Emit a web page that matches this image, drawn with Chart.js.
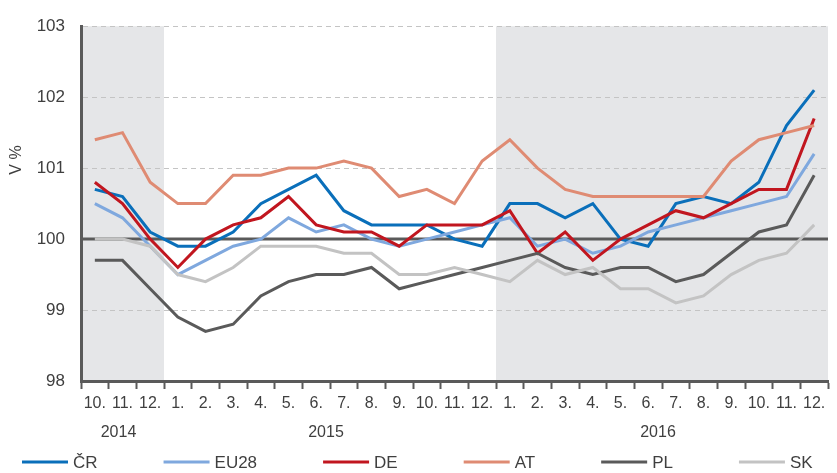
<!DOCTYPE html>
<html>
<head>
<meta charset="utf-8">
<script src="https://cdn.jsdelivr.net/npm/chart.js@4.4.1/dist/chart.umd.min.js"></script>
<style>
html,body{margin:0;padding:0;background:#fff;}
#wrap{width:837px;height:473px;position:relative;}
</style>
</head>
<body>
<div id="wrap"><canvas id="c" width="837" height="473"></canvas></div>
<script>
// ---- data ----
const monthLabels = ['10.','11.','12.','1.','2.','3.','4.','5.','6.','7.','8.','9.','10.','11.','12.','1.','2.','3.','4.','5.','6.','7.','8.','9.','10.','11.','12.'];
const yearLabels = ['2014','2015','2016'];
const yearFirstIndex = [0, 3, 15];
const yearLastIndex = [2, 14, 26];
const shadedYears = [0, 2];
const seriesNames = ['ČR','EU28','DE','AT','PL','SK'];
const yTicks = [98, 99, 100, 101, 102, 103];
const referenceLevel = 100;
const yTitle = 'V %';

const cr   = [100.7,100.6,100.1, 99.9,99.9,100.1,100.5,100.7,100.9,100.4,100.2,100.2,100.2,100.0,99.9, 100.5,100.5,100.3,100.5,100.0,99.9,100.5,100.6,100.5,100.8,101.6,102.1];
const eu28 = [100.5,100.3,99.9, 99.5,99.7,99.9,100.0,100.3,100.1,100.2,100.0,99.9,100.0,100.1,100.2, 100.3,99.9,100.0,99.8,99.9,100.1,100.2,100.3,100.4,100.5,100.6,101.2];
const de   = [100.8,100.5,100.0, 99.6,100.0,100.2,100.3,100.6,100.2,100.1,100.1,99.9,100.2,100.2,100.2, 100.4,99.8,100.1,99.7,100.0,100.2,100.4,100.3,100.5,100.7,100.7,101.7];
const at   = [101.4,101.5,100.8, 100.5,100.5,100.9,100.9,101.0,101.0,101.1,101.0,100.6,100.7,100.5,101.1, 101.4,101.0,100.7,100.6,100.6,100.6,100.6,100.6,101.1,101.4,101.5,101.6];
const pl   = [99.7,99.7,99.3, 98.9,98.7,98.8,99.2,99.4,99.5,99.5,99.6,99.3,99.4,99.5,99.6, 99.7,99.8,99.6,99.5,99.6,99.6,99.4,99.5,99.8,100.1,100.2,100.9];
const sk   = [100.0,100.0,99.9, 99.5,99.4,99.6,99.9,99.9,99.9,99.8,99.8,99.5,99.5,99.6,99.5, 99.4,99.7,99.5,99.6,99.3,99.3,99.1,99.2,99.5,99.7,99.8,100.2];

// ---- styles ----
const seriesData = [cr, eu28, de, at, pl, sk];
const colors = ['#0a6fba', '#7fa8de', '#c1161f', '#df8b73', '#5a5a5a', '#c3c3c3'];
const FONT = '"Liberation Sans", Arial, sans-serif';
const TEXT = '#3f3f3f';
const AXIS = '#5a5a5a';

const shadePlugin = {
  id: 'shade',
  beforeDraw(chart) {
    const {ctx, chartArea: a, scales: {x}} = chart;
    const half = (x.getPixelForValue(1) - x.getPixelForValue(0)) / 2;
    ctx.save();
    ctx.fillStyle = '#e5e6e8';
    shadedYears.forEach(k => {
      const x0 = Math.max(a.left, x.getPixelForValue(yearFirstIndex[k]) - half);
      const x1 = Math.min(a.right, x.getPixelForValue(yearLastIndex[k]) + half);
      ctx.fillRect(x0, a.top, x1 - x0, a.bottom - a.top);
    });
    ctx.restore();
  },
  beforeDatasetsDraw(chart) {
    const {ctx, chartArea: a, scales: {y}} = chart;
    const py = y.getPixelForValue(referenceLevel);
    ctx.save();
    ctx.strokeStyle = AXIS;
    ctx.lineWidth = 3;
    ctx.beginPath();
    ctx.moveTo(a.left, py);
    ctx.lineTo(a.right, py);
    ctx.stroke();
    ctx.restore();
  },
  afterDraw(chart) {
    const {ctx, chartArea: a, scales: {x}} = chart;
    ctx.save();
    // year labels
    ctx.fillStyle = TEXT;
    ctx.font = '16px ' + FONT;
    ctx.textAlign = 'center';
    ctx.textBaseline = 'middle';
    yearLabels.forEach((t, k) => {
      const cx = (x.getPixelForValue(yearFirstIndex[k]) + x.getPixelForValue(yearLastIndex[k])) / 2 - 4;
      ctx.fillText(t, cx, 433);
    });
    // y title
    ctx.save();
    ctx.translate(17, 160);
    ctx.rotate(-Math.PI / 2);
    ctx.fillText(yTitle, 0, 0);
    ctx.restore();
    // legend
    ctx.font = '17px ' + FONT;
    ctx.textAlign = 'left';
    let lx = 22;
    const ly = 462;
    chart.data.datasets.forEach(ds => {
      ctx.strokeStyle = ds.borderColor;
      ctx.lineWidth = 3;
      ctx.beginPath();
      ctx.moveTo(lx, ly);
      ctx.lineTo(lx + 46, ly);
      ctx.stroke();
      ctx.fillStyle = TEXT;
      ctx.fillText(ds.label, lx + 51, ly + 1);
      lx += 51 + ctx.measureText(ds.label).width + 66;
    });
    ctx.restore();
  }
};

new Chart(document.getElementById('c'), {
  type: 'line',
  data: {
    labels: monthLabels,
    datasets: seriesNames.map((n, i) => ({
      label: n,
      data: seriesData[i],
      borderColor: colors[i],
      backgroundColor: colors[i],
      borderWidth: 3,
      pointRadius: 0,
      tension: 0,
      fill: false,
      order: 6 - i
    }))
  },
  options: {
    responsive: false,
    animation: false,
    devicePixelRatio: 1,
    layout: {padding: {top: 18, right: 9, left: 0, bottom: 0}},
    plugins: {legend: {display: false}, tooltip: {enabled: false}, title: {display: false}},
    scales: {
      x: {
        type: 'category',
        offset: true,
        grid: {display: true, drawOnChartArea: false, drawTicks: true, tickLength: 8, tickColor: AXIS, tickWidth: 2, offset: true},
        border: {display: true, color: AXIS, width: 3},
        ticks: {color: TEXT, font: {family: FONT, size: 16}, padding: 5, maxRotation: 0, autoSkip: false},
        afterFit(s) { s.height = 92; }
      },
      y: {
        min: yTicks[0],
        max: yTicks[yTicks.length - 1],
        afterBuildTicks(s) { s.ticks = yTicks.map(v => ({value: v})); },
        grid: {
          drawTicks: false,
          color: c => (c.tick && (c.tick.value === yTicks[0] || c.tick.value === referenceLevel)) ? 'rgba(0,0,0,0)' : '#c4c4c4',
          lineWidth: 1
        },
        border: {display: true, color: AXIS, width: 3, dash: [5, 4]},
        ticks: {color: TEXT, font: {family: FONT, size: 17}, padding: 16, callback: v => String(v)},
        afterFit(s) { s.width = 81; }
      }
    }
  },
  plugins: [shadePlugin]
});
</script>
</body>
</html>
